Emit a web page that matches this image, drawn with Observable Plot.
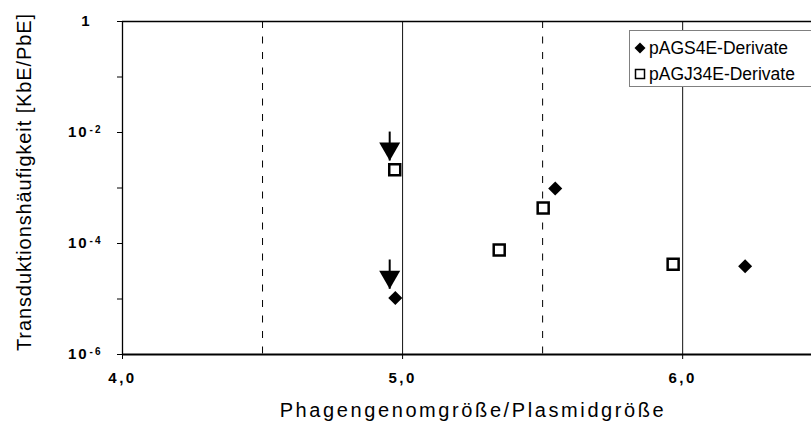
<!DOCTYPE html>
<html><head><meta charset="utf-8">
<script src="https://cdn.jsdelivr.net/npm/d3@7"></script>
<script src="https://cdn.jsdelivr.net/npm/@observablehq/plot@0.6"></script>
<style>
html,body{margin:0;padding:0;background:#fff;overflow:hidden;}
#wrap{position:relative;width:811px;height:425px;overflow:hidden;font-family:"Liberation Sans",Arial,sans-serif;}
.legend{position:absolute;left:629px;top:30px;width:200px;height:57px;border:1px solid #808080;background:#fff;box-sizing:border-box;font-size:17.5px;color:#000;}
.legend .row{position:absolute;left:4px;height:22px;display:flex;align-items:center;white-space:nowrap;}
.legend .row svg{margin-right:3px;}
</style></head>
<body><div id="wrap"></div>
<script>
// ---- data ----
const seriesNames = ["pAGS4E-Derivate", "pAGJ34E-Derivate"];
const s4eX = [4.974, 5.545, 6.223];
const s4eY = [1.04e-5, 9.8e-4, 3.9e-5];
const j34eX = [4.972, 5.345, 5.502, 5.966];
const j34eY = [2.13e-3, 7.6e-5, 4.36e-4, 4.24e-5];
const arrowX = [4.954, 4.954];
const arrowTop = [1.04e-2, 5.15e-5];
const arrowTip = [3.13e-3, 1.53e-5];
const xTicks = [4, 5, 6];
const xTickLabels = ["4,0", "5,0", "6,0"];
const yTicks = [1e-6, 1e-5, 1e-4, 1e-3, 1e-2, 1e-1, 1];
const yTickLabels = ["10|-6", "", "10|-4", "", "10|-2", "", "1"];
const solidGridX = [5, 6];
const dashedGridX = [4.5, 5.5];
const xDomain = [4, 6.46];
const yDomain = [1e-6, 1];
const xTitle = "Phagengenomgröße/Plasmidgröße";
const yTitle = "Transduktionshäufigkeit [KbE/PbE]";

const s4e = s4eX.map((x, i) => ({x, y: s4eY[i]}));
const j34e = j34eX.map((x, i) => ({x, y: j34eY[i]}));
const arrows = arrowX.map((x, i) => ({x, top: arrowTop[i], tip: arrowTip[i]}));

const plot = Plot.plot({
  width: 811, height: 425,
  marginLeft: 122, marginRight: 0, marginTop: 21, marginBottom: 71,
  x: {domain: xDomain},
  y: {type: "log", domain: yDomain},
  style: {fontFamily: "'Liberation Sans', Arial, sans-serif", background: "white", color: "#000", overflow: "visible"},
  marks: [
    Plot.ruleX(dashedGridX, {stroke: "#000", strokeWidth: 1, strokeDasharray: "7,8.5"}),
    Plot.ruleX(solidGridX, {stroke: "#111", strokeWidth: 1}),
    Plot.ruleY([yDomain[1]], {stroke: "#000", strokeWidth: 1.5}),
    Plot.ruleY([yDomain[0]], {stroke: "#000", strokeWidth: 2}),
    Plot.ruleX([xDomain[0]], {stroke: "#000", strokeWidth: 1.3}),
    Plot.axisX({ticks: xTicks, tickFormat: d => xTickLabels[xTicks.indexOf(d)], tickSize: 5, tickPadding: 13, label: null}),
    Plot.axisY({ticks: yTicks, tickFormat: d => yTickLabels[yTicks.indexOf(d)], tickSize: 5, tickPadding: 15, label: null}),
    Plot.link(arrows, {x1: "x", x2: "x", y1: "top", y2: "tip", stroke: "#000", strokeWidth: 2}),
    Plot.dot(arrows, {x: "x", y: "tip", symbol: "triangle", rotate: 180, r: 7.8, fill: "#000", stroke: "none", dy: -12}),
    Plot.dot(j34e, {x: "x", y: "y", symbol: "square", r: 6.2, fill: "#fff", stroke: "#000", strokeWidth: 2.5}),
    Plot.dot(s4e, {x: "x", y: "y", symbol: "square", rotate: 45, r: 5.6, fill: "#000", stroke: "none"}),
    Plot.text([xTitle], {text: d => d, frameAnchor: "bottom", textAnchor: "middle", lineAnchor: "middle", dy: 56, dx: 6, fontSize: 20, fill: "#000"}),
    Plot.text([yTitle], {text: d => d, frameAnchor: "left", textAnchor: "middle", lineAnchor: "middle", rotate: -90, dx: -98, dy: -6, fontSize: 20, fill: "#000"})
  ]
});

const svg = d3.select(plot);
svg.selectAll("text").filter(function() { return this.textContent === xTitle; }).style("letter-spacing", "2.6px");
svg.selectAll("text").filter(function() { return this.textContent === yTitle; }).style("letter-spacing", "0.9px");
svg.selectAll('g[aria-label="x-axis tick label"] text')
  .style("font-size", "15px").style("font-weight", "bold").style("letter-spacing", "2.5px");
svg.selectAll('g[aria-label="y-axis tick label"] text').each(function() {
  const t = d3.select(this);
  const s = this.textContent;
  t.style("font-size", "15px").style("font-weight", "bold").style("letter-spacing", "2px");
  if (s.includes("|")) {
    const [base, sup] = s.split("|");
    t.text(null);
    t.append("tspan").text(base);
    t.append("tspan").attr("dx", 1).attr("dy", "-0.45em").style("font-size", "10px").text(sup);
  } else if (s === "1") {
    const tr = this.getAttribute("transform") || "";
    this.setAttribute("transform", "translate(-11,0) " + tr);
  }
});

const wrap = document.getElementById("wrap");
wrap.appendChild(plot);

// legend overlay
const legend = document.createElement("div");
legend.className = "legend";
legend.innerHTML = `
  <div class="row" style="top:6px"><svg width="12" height="12" viewBox="-6 -6 12 12"><path d="M0,-5.5L5.5,0L0,5.5L-5.5,0Z" fill="#000"/></svg><span>${seriesNames[0]}</span></div>
  <div class="row" style="top:32px"><svg width="12" height="12" viewBox="-6 -6 12 12"><rect x="-4.5" y="-4.5" width="9" height="9" fill="#fff" stroke="#000" stroke-width="1.5"/></svg><span>${seriesNames[1]}</span></div>`;
wrap.appendChild(legend);
</script>
</body></html>
